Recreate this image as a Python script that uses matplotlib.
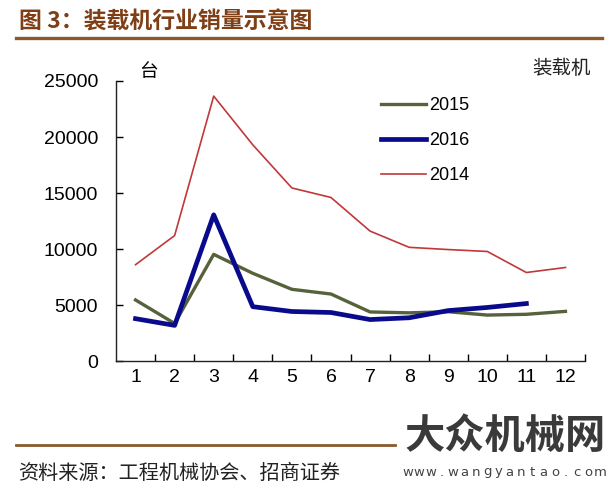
import matplotlib
matplotlib.use('Agg')
import matplotlib.pyplot as plt
from matplotlib.lines import Line2D

plt.rcParams['font.family'] = ['Liberation Sans', 'Noto Sans CJK SC', 'DejaVu Sans']

months = [1, 2, 3, 4, 5, 6, 7, 8, 9, 10, 11, 12]
sales_2014 = [8600, 11200, 23650, 19300, 15450, 14600, 11600, 10150, 9950, 9780, 7900, 8350]
sales_2015 = [5450, 3350, 9520, 7830, 6400, 5980, 4380, 4300, 4400, 4100, 4170, 4430]
sales_2016 = [3780, 3180, 13050, 4850, 4420, 4330, 3700, 3860, 4500, 4780, 5130]
yticks = [0, 5000, 10000, 15000, 20000, 25000]

brown = '#8B5A2B'
W, H = 611, 492


def fx(px):
    return px / W


def fy(py):
    return 1 - py / H


fig = plt.figure(figsize=(6.11, 4.92), dpi=100)
ax = fig.add_axes([fx(116), fy(361), (585 - 116) / W, (361 - 81) / H])

ax.plot(months, sales_2015, color='#55623A', lw=2.4, label='2015')
ax.plot(months[:len(sales_2016)], sales_2016, color='#0A0A8C', lw=3.4, label='2016')
ax.plot(months, sales_2014, color='#C0383A', lw=1.2, label='2014')

ax.set_xlim(0.5, 12.5)
ax.set_ylim(0, 25000)
ax.set_yticks(yticks)
ax.set_yticklabels([str(v) for v in yticks], fontsize=14)
ax.set_xticks(months)
ax.set_xticklabels([str(m) for m in months], fontsize=14)
ax.set_xticks([m + 0.5 for m in months[:-1]] + [12.5], minor=True)
ax.tick_params(axis='x', which='major', length=0, pad=6)
ax.tick_params(axis='x', which='minor', direction='in', length=5, width=1)
ax.tick_params(axis='y', direction='in', length=5, width=1, pad=13)
for s in ['top', 'right']:
    ax.spines[s].set_visible(False)
for s in ['left', 'bottom']:
    ax.spines[s].set_linewidth(1.0)
    ax.spines[s].set_color('#222222')

ax.legend(loc='upper left', bbox_to_anchor=(0.53, 1.0), frameon=False, fontsize=13,
          handlelength=2.5, handletextpad=0.2, labelspacing=1.0)

fig.text(fx(148), fy(71), '台', fontsize=13.5, ha='center', va='center',
         family=['Noto Sans CJK SC'])
fig.text(fx(562), fy(68), '装载机', fontsize=14, ha='center', va='center',
         family=['Noto Sans CJK SC'], color='#222222')

# title and rules
fig.text(fx(19), fy(22), '图 3：装载机行业销量示意图', fontsize=16.5, fontweight='bold',
         color='#7E3F17', ha='left', va='center', family=['Noto Sans CJK SC', 'DejaVu Sans'])
fig.add_artist(Line2D([fx(16), fx(602)], [fy(37.5), fy(37.5)], color=brown, lw=2.4))
fig.add_artist(Line2D([fx(16), fx(395)], [fy(445), fy(445)], color=brown, lw=2.0))

fig.text(fx(18), fy(473), '资料来源：工程机械协会、招商证券', fontsize=14.5,
         ha='left', va='center', family=['Noto Sans CJK SC', 'DejaVu Sans'], color='#222222')

# watermark
fig.text(fx(505), fy(436), '大众机械网', fontsize=29, fontweight='bold',
         ha='center', va='center', family=['Noto Sans CJK SC'], color='#3A3A3A')
url = 'www.wangyantao.com'
step = (600 - 408) / (len(url) - 1)
for i, ch in enumerate(url):
    fig.text(fx(408 + i * step), fy(472), ch, fontsize=9.5, ha='center', va='center',
             color='#444444', family=['DejaVu Sans'])

fig.savefig('out.png', dpi=100)
